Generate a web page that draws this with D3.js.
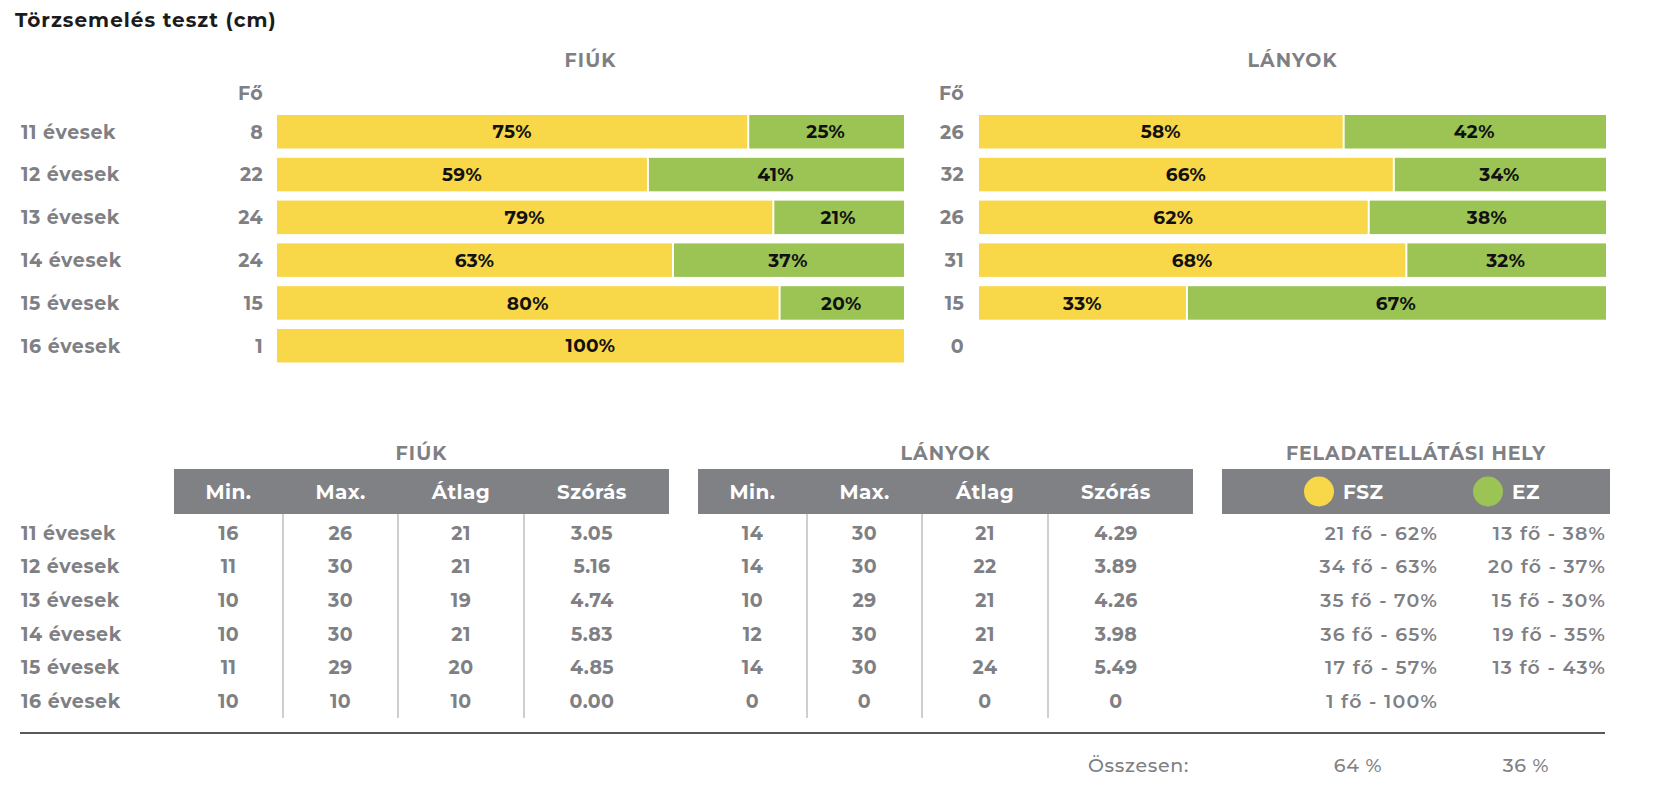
<!DOCTYPE html>
<html>
<head>
<meta charset="utf-8">
<script src="https://cdn.jsdelivr.net/npm/d3@7"></script>
<style>
  body { margin: 0; background: #fff; }
  svg { display: block; }
  text { font-family: Montserrat, Inter, "Open Sans", sans-serif; }
</style>
</head>
<body>
<svg></svg>
<script>
//Chart values.
var ageGroups = ["11 évesek", "12 évesek", "13 évesek", "14 évesek", "15 évesek", "16 évesek"];

var boysCount = [8, 22, 24, 24, 15, 1];
var boysFsz = [75, 59, 79, 63, 80, 100];
var boysEz = [25, 41, 21, 37, 20, 0];

var girlsCount = [26, 32, 26, 31, 15, 0];
var girlsFsz = [58, 66, 62, 68, 33, 0];
var girlsEz = [42, 34, 38, 32, 67, 0];

var statHeaders = ["Min.", "Max.", "Átlag", "Szórás"];
var boysMin = [16, 11, 10, 10, 11, 10];
var boysMax = [26, 30, 30, 30, 29, 10];
var boysAvg = [21, 21, 19, 21, 20, 10];
var boysSd = ["3.05", "5.16", "4.74", "5.83", "4.85", "0.00"];

var girlsMin = [14, 14, 10, 12, 14, 0];
var girlsMax = [30, 30, 29, 30, 30, 0];
var girlsAvg = [21, 22, 21, 21, 24, 0];
var girlsSd = ["4.29", "3.89", "4.26", "3.98", "5.49", "0"];

var fszCount = [21, 34, 35, 36, 17, 1];
var fszPct = [62, 63, 70, 65, 57, 100];
var ezCount = [13, 20, 15, 19, 13, null];
var ezPct = [38, 37, 30, 35, 43, null];
var totalFsz = 64;
var totalEz = 36;

//Colours.
var GRAY = "#7f8084";
var HEAD = "#808185";
var YELLOW = "#f8d749";
var GREEN = "#9bc455";

var W = 1670, H = 804;
var svg = d3.select("svg").attr("width", W).attr("height", H);

//Faint shadow band at the very top, left over from the page above the chart.
var defs = svg.append("defs");
var grad = defs.append("radialGradient").attr("id", "topShade")
  .attr("cx", 0.5).attr("cy", 0).attr("r", 0.5);
grad.append("stop").attr("offset", 0).attr("stop-color", "#ececec");
grad.append("stop").attr("offset", 1).attr("stop-color", "#ffffff").attr("stop-opacity", 0);
svg.append("ellipse").attr("cx", 860).attr("cy", 0).attr("rx", 480).attr("ry", 24)
  .attr("fill", "url(#topShade)");

//Title.
svg.append("text")
  .attr("x", 15).attr("y", 27)
  .attr("font-size", 20).attr("font-weight", 700).attr("fill", "#1b1b1b")
  .attr("letter-spacing", 1)
  .text("Törzsemelés teszt (cm)");

//Shared text helper: gray bold label.
function label(sel, size, spacing) {
  return sel.attr("font-size", size).attr("font-weight", 700)
    .attr("fill", GRAY).attr("letter-spacing", spacing);
}

//---------- Top part: stacked 100% bars ----------
var yBar = d3.scaleBand().domain(ageGroups).range([115, 362.5]).paddingInner(0.217);

//Row labels on the left.
label(svg.append("g").selectAll("text")
  .data(ageGroups)
  .enter().append("text")
    .attr("x", 21)
    .attr("y", d => yBar(d) + yBar.bandwidth() / 2)
    .attr("dy", "0.36em")
    .text(d => d), 19, 0.6);

function drawBars(x0, x1, countRight, header, counts, fsz, ez) {
  var x = d3.scaleLinear().domain([0, 100]).range([x0, x1]);
  var g = svg.append("g");

  label(g.append("text")
    .attr("x", (x0 + x1) / 2).attr("y", 67)
    .attr("text-anchor", "middle")
    .text(header), 19, 1.1);

  label(g.append("text")
    .attr("x", countRight).attr("y", 100)
    .attr("text-anchor", "end")
    .text("Fő"), 19, 0.3);

  label(g.append("g").selectAll("text")
    .data(counts)
    .enter().append("text")
      .attr("x", countRight)
      .attr("y", (d, i) => yBar(ageGroups[i]) + yBar.bandwidth() / 2)
      .attr("dy", "0.36em")
      .attr("text-anchor", "end")
      .text(d => d), 19, 0.3);

  var rows = ageGroups.map((a, i) => ({ age: a, fsz: fsz[i], ez: ez[i] }));
  var series = d3.stack().keys(["fsz", "ez"])(rows);
  var colors = { fsz: YELLOW, ez: GREEN };

  var layer = g.selectAll("g.layer")
    .data(series)
    .enter().append("g").attr("class", "layer")
      .attr("fill", s => colors[s.key]);

  layer.selectAll("rect")
    .data(s => s.filter(d => d[1] - d[0] > 0).map(d => ({ d: d, key: s.key })))
    .enter().append("rect")
      .attr("x", o => x(o.d[0]) + (o.d[0] > 0 ? 2 : 0))
      .attr("y", o => yBar(o.d.data.age))
      .attr("width", o => x(o.d[1]) - x(o.d[0]) - (o.d[0] > 0 ? 2 : 0))
      .attr("height", yBar.bandwidth());

  layer.selectAll("text")
    .data(s => s.filter(d => d[1] - d[0] > 0).map(d => ({ d: d, key: s.key })))
    .enter().append("text")
      .attr("x", o => (x(o.d[0]) + x(o.d[1])) / 2)
      .attr("y", o => yBar(o.d.data.age) + yBar.bandwidth() / 2)
      .attr("dy", "0.36em")
      .attr("text-anchor", "middle")
      .attr("font-size", 18.5).attr("font-weight", 700).attr("fill", "#111")
      .attr("letter-spacing", 0.3)
      .text(o => (o.d[1] - o.d[0]) + "%");
}

drawBars(277, 904, 263, "FIÚK", boysCount, boysFsz, boysEz);
drawBars(979, 1606, 964, "LÁNYOK", girlsCount, girlsFsz, girlsEz);

//---------- Bottom part: tables ----------
var yRow = d3.scaleBand().domain(ageGroups).range([516, 718]);
var headTop = 469, headH = 45;
var colEdges = [0, 109, 224, 350, 495];
var colCenters = [54.5, 166.5, 287, 418];

label(svg.append("g").selectAll("text")
  .data(ageGroups)
  .enter().append("text")
    .attr("x", 21)
    .attr("y", d => yRow(d) + yRow.bandwidth() / 2)
    .attr("dy", "0.36em")
    .text(d => d), 19, 0.6);

function drawTable(left, title, cols) {
  var g = svg.append("g").attr("transform", "translate(" + left + ",0)");
  var w = colEdges[colEdges.length - 1];

  label(g.append("text")
    .attr("x", w / 2).attr("y", 460)
    .attr("text-anchor", "middle")
    .text(title), 19, 1.1);

  g.append("rect")
    .attr("x", 0).attr("y", headTop).attr("width", w).attr("height", headH)
    .attr("fill", HEAD);

  g.selectAll("text.head")
    .data(statHeaders)
    .enter().append("text").attr("class", "head")
      .attr("x", (d, i) => colCenters[i])
      .attr("y", headTop + headH / 2)
      .attr("dy", "0.36em")
      .attr("text-anchor", "middle")
      .attr("font-size", 20).attr("font-weight", 700).attr("fill", "#fff")
      .attr("letter-spacing", 0.4)
      .text(d => d);

  g.selectAll("line.div")
    .data(colEdges.slice(1, -1))
    .enter().append("line").attr("class", "div")
      .attr("x1", d => d).attr("x2", d => d)
      .attr("y1", headTop + headH).attr("y2", 718)
      .attr("stroke", "#cfcfcf").attr("stroke-width", 2);

  cols.forEach(function (col, c) {
    label(g.append("g").selectAll("text")
      .data(col)
      .enter().append("text")
        .attr("x", colCenters[c])
        .attr("y", (d, i) => yRow(ageGroups[i]) + yRow.bandwidth() / 2)
        .attr("dy", "0.36em")
        .attr("text-anchor", "middle")
        .text(d => d), 19, 0.4);
  });
}

drawTable(174, "FIÚK", [boysMin, boysMax, boysAvg, boysSd]);
drawTable(698, "LÁNYOK", [girlsMin, girlsMax, girlsAvg, girlsSd]);

//Feladatellátási hely block.
var place = svg.append("g");
label(place.append("text")
  .attr("x", 1416).attr("y", 460)
  .attr("text-anchor", "middle")
  .text("FELADATELLÁTÁSI HELY"), 19, 0.9);
place.append("rect")
  .attr("x", 1222).attr("y", headTop).attr("width", 388).attr("height", headH)
  .attr("fill", HEAD);

var legend = [
  { label: "FSZ", color: YELLOW, cx: 1319 },
  { label: "EZ", color: GREEN, cx: 1488 }
];
place.selectAll("circle")
  .data(legend)
  .enter().append("circle")
    .attr("cx", d => d.cx).attr("cy", headTop + headH / 2).attr("r", 15)
    .attr("fill", d => d.color);
place.selectAll("text.leg")
  .data(legend)
  .enter().append("text").attr("class", "leg")
    .attr("x", d => d.cx + 24).attr("y", headTop + headH / 2)
    .attr("dy", "0.36em")
    .attr("font-size", 20).attr("font-weight", 700).attr("fill", "#fff")
    .attr("letter-spacing", 0.5)
    .text(d => d.label);

function placeCol(counts, pcts, right) {
  place.append("g").selectAll("text")
    .data(counts)
    .enter().append("text")
      .attr("x", right)
      .attr("y", (d, i) => yRow(ageGroups[i]) + yRow.bandwidth() / 2)
      .attr("dy", "0.36em")
      .attr("text-anchor", "end")
      .attr("font-size", 19).attr("font-weight", 600).attr("fill", GRAY)
      .attr("letter-spacing", 1.2)
      .text((d, i) => d == null ? "" : d + " fő - " + pcts[i] + "%");
}
placeCol(fszCount, fszPct, 1438);
placeCol(ezCount, ezPct, 1606);

//Closing rule and totals.
svg.append("line")
  .attr("x1", 20).attr("x2", 1605).attr("y1", 733).attr("y2", 733)
  .attr("stroke", "#222").attr("stroke-width", 1.5);

var totals = svg.append("g")
  .attr("font-size", 19).attr("font-weight", 500).attr("fill", GRAY)
  .attr("letter-spacing", 0.7);
totals.append("text").attr("x", 1189).attr("y", 772).attr("text-anchor", "end").text("Összesen:");
totals.append("text").attr("x", 1358).attr("y", 772).attr("text-anchor", "middle").text(totalFsz + " %");
totals.append("text").attr("x", 1526).attr("y", 772).attr("text-anchor", "middle").text(totalEz + " %");
</script>
</body>
</html>
